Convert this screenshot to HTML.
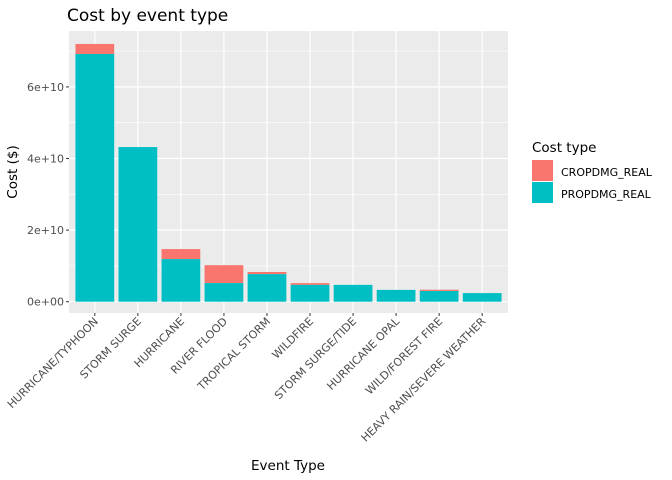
<!DOCTYPE html>
<html><head><meta charset="utf-8">
<style>
body{margin:0;background:#fff;}
svg{display:block;font-family:"DejaVu Sans","Liberation Sans",sans-serif;}
</style></head>
<body>
<svg id="chart" width="672" height="480">
<text x="67" y="21" font-size="17" fill="#000">Cost by event type</text>
<rect x="69" y="31" width="439" height="282" fill="#ebebeb"/>
<g id="grid"></g>
<g id="bars"></g>
<g id="axes"></g>
<text transform="translate(17,172) rotate(-90)" text-anchor="middle" font-size="13.5" fill="#000">Cost ($)</text>
<text x="288" y="470" text-anchor="middle" font-size="13.5" fill="#000">Event Type</text>
<g>
<text x="532" y="152" font-size="13.5" fill="#000">Cost type</text>
<rect x="532" y="160" width="21" height="21" fill="#f8766d"/>
<text x="561" y="176" font-size="11" fill="#000">CROPDMG_REAL</text>
<rect x="532" y="182" width="21" height="21" fill="#00bfc4"/>
<text x="561" y="198" font-size="11" fill="#000">PROPDMG_REAL</text>
</g>
</svg>
<script>
const categories=["HURRICANE/TYPHOON","STORM SURGE","HURRICANE","RIVER FLOOD","TROPICAL STORM","WILDFIRE","STORM SURGE/TIDE","HURRICANE OPAL","WILD/FOREST FIRE","HEAVY RAIN/SEVERE WEATHER"];
const propValues=[6.92,4.32,1.19,0.52,0.77,0.47,0.47,0.33,0.30,0.24];
const cropValues=[0.28,0.0,0.28,0.50,0.06,0.05,0.0,0.0,0.035,0.0];
const yTicks=[0,2,4,6];
const yTickLabels=["0e+00","2e+10","4e+10","6e+10"];
const NS="http://www.w3.org/2000/svg";
const pL=69,pR=508,y0=301.7,pxPer=35.8;
const band=(pR-pL)/(categories.length+0.2);
function xC(i){return pL+band*(i+0.6);}
function yS(v){return y0-v*pxPer;}
function mk(t,a,p){const e=document.createElementNS(NS,t);for(const k in a)e.setAttribute(k,a[k]);p.appendChild(e);return e;}
const grid=document.getElementById('grid'),bars=document.getElementById('bars'),axes=document.getElementById('axes');
for(let i=0;i<yTicks.length;i++){
  const ym=yS(yTicks[i]+1);
  if(ym>31){const g=mk('line',{x1:pL,x2:pR,y1:ym,y2:ym,stroke:'#fff','stroke-width':0.6},grid);
  
  }
  const y=yS(yTicks[i]);
  const g=mk('line',{x1:pL,x2:pR,y1:y,y2:y,stroke:'#fff','stroke-width':1.2},grid);
  
  
  const tk=mk('line',{x1:pL-3,x2:pL,y1:y,y2:y,stroke:'#333','stroke-width':1},axes);
  
  
  const t=mk('text',{x:pL-5,y:y+4,'text-anchor':'end','font-size':11,fill:'#4d4d4d'},axes);
  t.textContent=yTickLabels[i];
  
  
}
const bw=band*0.9;
categories.forEach((c,i)=>{
  const x=xC(i);
  const g=mk('line',{x1:x,x2:x,y1:31,y2:313,stroke:'#fff','stroke-width':1.2},grid);
  
  
  const tot=propValues[i]+cropValues[i];
  const rc=mk('rect',{x:x-bw/2,y:yS(tot),width:bw,height:yS(propValues[i])-yS(tot),fill:'#f8766d'},bars);
  
  
  const rp=mk('rect',{x:x-bw/2,y:yS(propValues[i]),width:bw,height:y0-yS(propValues[i]),fill:'#00bfc4'},bars);
  
  
  const tk=mk('line',{x1:x,x2:x,y1:313,y2:316,stroke:'#333','stroke-width':1},axes);
  
  
  const t=mk('text',{transform:`translate(${x+4},${322}) rotate(-45)`,'text-anchor':'end','font-size':11,fill:'#4d4d4d'},axes);
  t.textContent=c;
  
  
});
</script>
</body></html>
